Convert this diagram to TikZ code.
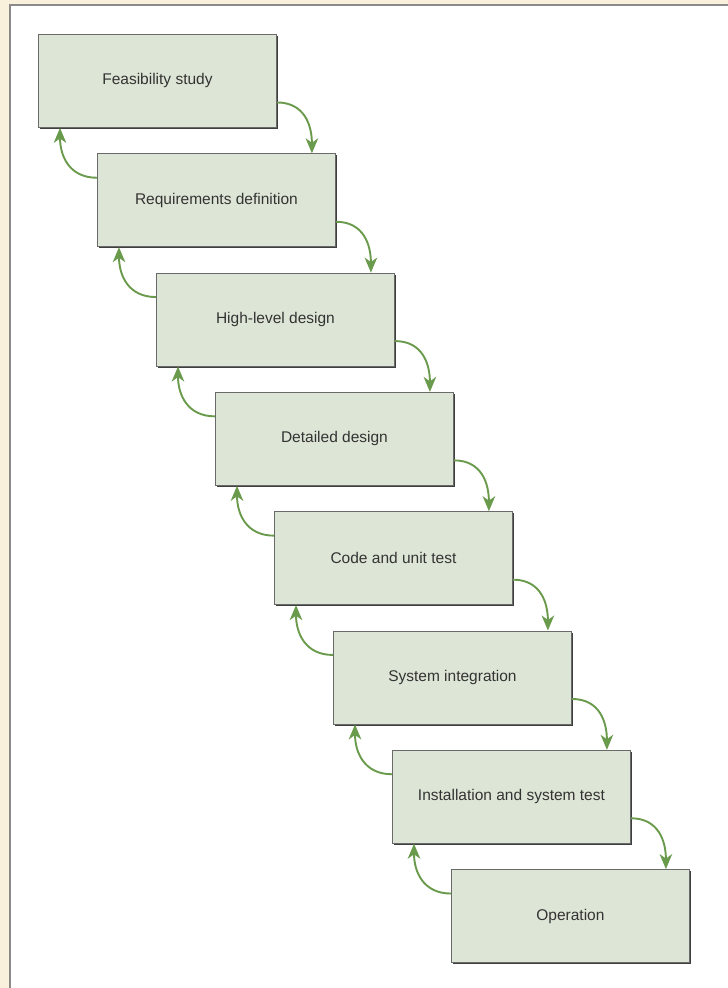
\documentclass[tikz,border=0pt]{standalone}
\usepackage{fontspec}
\setmainfont{Liberation Sans}
\usetikzlibrary{arrows.meta}
\definecolor{cream}{HTML}{FAF1DC}
\definecolor{panelborder}{HTML}{8A8A88}
\definecolor{boxfill}{HTML}{DDE6D6}
\definecolor{boxborder}{HTML}{6A6A6A}
\definecolor{boxshadow}{HTML}{3E3E3E}
\definecolor{arrowgreen}{HTML}{6A9A4C}
\definecolor{textgray}{HTML}{333333}
\tikzset{
  stagebox/.style={draw=boxborder, line width=0.9bp, fill=boxfill, anchor=north west,
    minimum width=238bp, minimum height=93bp, inner sep=0pt,
    font=\fontsize{15.5bp}{18bp}\selectfont, text=textgray},
  flowarrow/.style={draw=arrowgreen, line width=1.9bp, looseness=1.15,
    -{Stealth[length=15bp, width=12.5bp, inset=4.5bp]}},
}
\begin{document}
\begin{tikzpicture}[x=1bp, y=-1bp]
\useasboundingbox (0,0) rectangle (728,988);
\fill[cream] (0,0) rectangle (728,988);
\fill[white] (10,5) rectangle (740,1000);
\draw[panelborder, line width=1.5bp] (10,1000) -- (10,5) -- (740,5);
\foreach \i/\t in {0/Feasibility study,1/Requirements definition,2/High-level design,3/Detailed design,4/Code and unit test,5/System integration,6/Installation and system test,7/Operation}{
  \pgfmathsetmacro{\bx}{38+59*\i}
  \pgfmathsetmacro{\by}{34+119.3*\i}
  \fill[boxshadow] (\bx+2,\by+2) rectangle (\bx+240,\by+95);
  \node[stagebox] (b\i) at (\bx,\by) {\t};
}
\foreach \i [evaluate=\i as \j using int(\i+1)] in {0,...,6}{
  \draw[flowarrow] ([yshift=-21.5bp]b\i.east) to[out=0, in=90] ([xshift=-24bp]b\j.north east);
  \draw[flowarrow] ([yshift=22.5bp]b\j.west) to[out=180, in=-90] ([xshift=22bp]b\i.south west);
}
\end{tikzpicture}
\end{document}
